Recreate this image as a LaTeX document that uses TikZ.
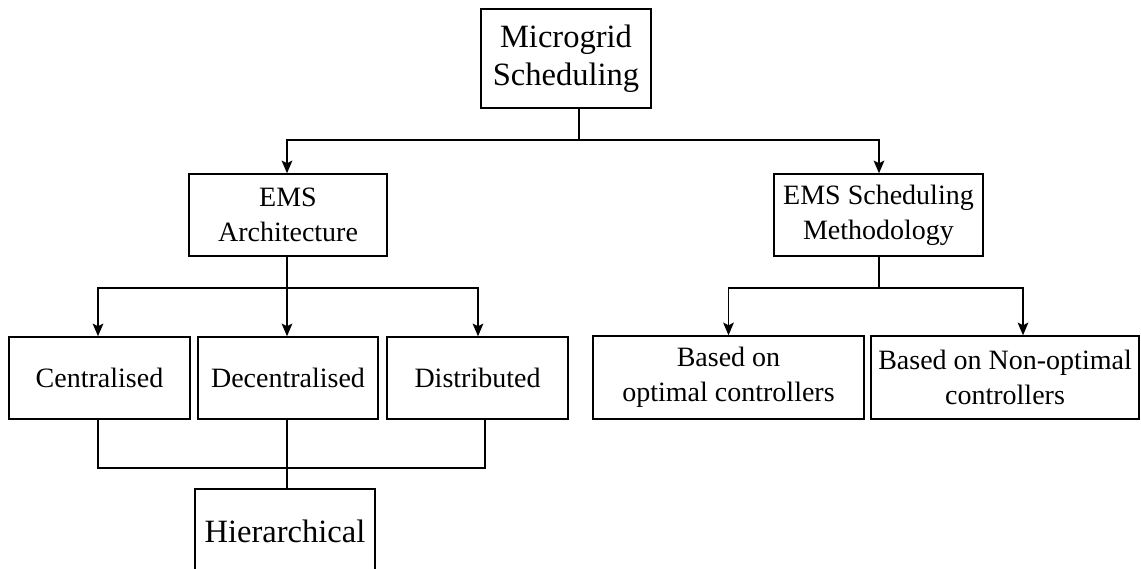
\documentclass[tikz,border=0pt]{standalone}
\usepackage{fontspec}
\setmainfont{Liberation Serif}
\usetikzlibrary{arrows.meta}
\begin{document}
\begin{tikzpicture}[x=0.75pt,y=-0.75pt,
  box/.style={draw,line width=1.1pt,inner sep=0pt,align=center,
    font=\fontsize{21}{26}\selectfont},
  bigbox/.style={box,font=\fontsize{24.4}{28.5}\selectfont},
  conn/.style={line width=1.1pt},
  arr/.style={conn,-{Stealth[length=9.5pt,width=8pt,inset=2pt]}}]
\useasboundingbox (0,0) rectangle (1141,568);
\fill[white] (0,0) rectangle (1141,568);
\begin{scope}
\clip (0,0) rectangle (1141,568);
\node[bigbox,minimum width=170*0.75pt,minimum height=99*0.75pt] (mg) at (566,58.5) {Microgrid\\Scheduling};
\node[box,minimum width=198*0.75pt,minimum height=82*0.75pt] (ea) at (288,215) {EMS\\Architecture};
\node[box,minimum width=209*0.75pt,minimum height=82*0.75pt] (es) at (878.5,215) {EMS Scheduling\\Methodology};
\node[box,minimum width=181*0.75pt,minimum height=82*0.75pt] (c) at (99.5,378) {Centralised};
\node[box,minimum width=180*0.75pt,minimum height=82*0.75pt] (d) at (288,378) {Decentralised};
\node[box,minimum width=181*0.75pt,minimum height=82*0.75pt] (di) at (477.5,378) {Distributed};
\node[box,minimum width=271*0.75pt,minimum height=83*0.75pt] (bo) at (728.5,377.5) {Based on\\optimal controllers};
\node[box,minimum width=268*0.75pt,minimum height=83*0.75pt] (bn) at (1005,377.5) {Based on Non-optimal\\controllers};
\node[bigbox,minimum width=180*0.75pt,minimum height=84*0.75pt] (h) at (285,531) {Hierarchical};

\coordinate (j1) at (579,140);
\draw[conn] (579,0 |- mg.south) -- (j1);
\draw[arr] (j1) -- (287,140) -- (287,0 |- ea.north);
\draw[arr] (j1) -- (879,140) -- (879,0 |- es.north);

\coordinate (j2) at (287,288);
\draw[conn] (287,0 |- ea.south) -- (j2);
\draw[arr] (j2) -- (98,288) -- (98,0 |- c.north);
\draw[arr] (j2) -- (287,0 |- d.north);
\draw[arr] (j2) -- (478,288) -- (478,0 |- di.north);

\coordinate (j3) at (879,288);
\draw[conn] (879,0 |- es.south) -- (j3);
\draw[arr] (j3) -- (728.5,288) -- (bo.north);
\draw[arr] (j3) -- (1023,288) -- (1023,0 |- bn.north);

\draw[conn] (98,0 |- c.south) -- (98,468) -- (485,468) -- (485,0 |- di.south);
\draw[conn] (287,0 |- d.south) -- (287,0 |- h.north);
\end{scope}
\end{tikzpicture}
\end{document}
